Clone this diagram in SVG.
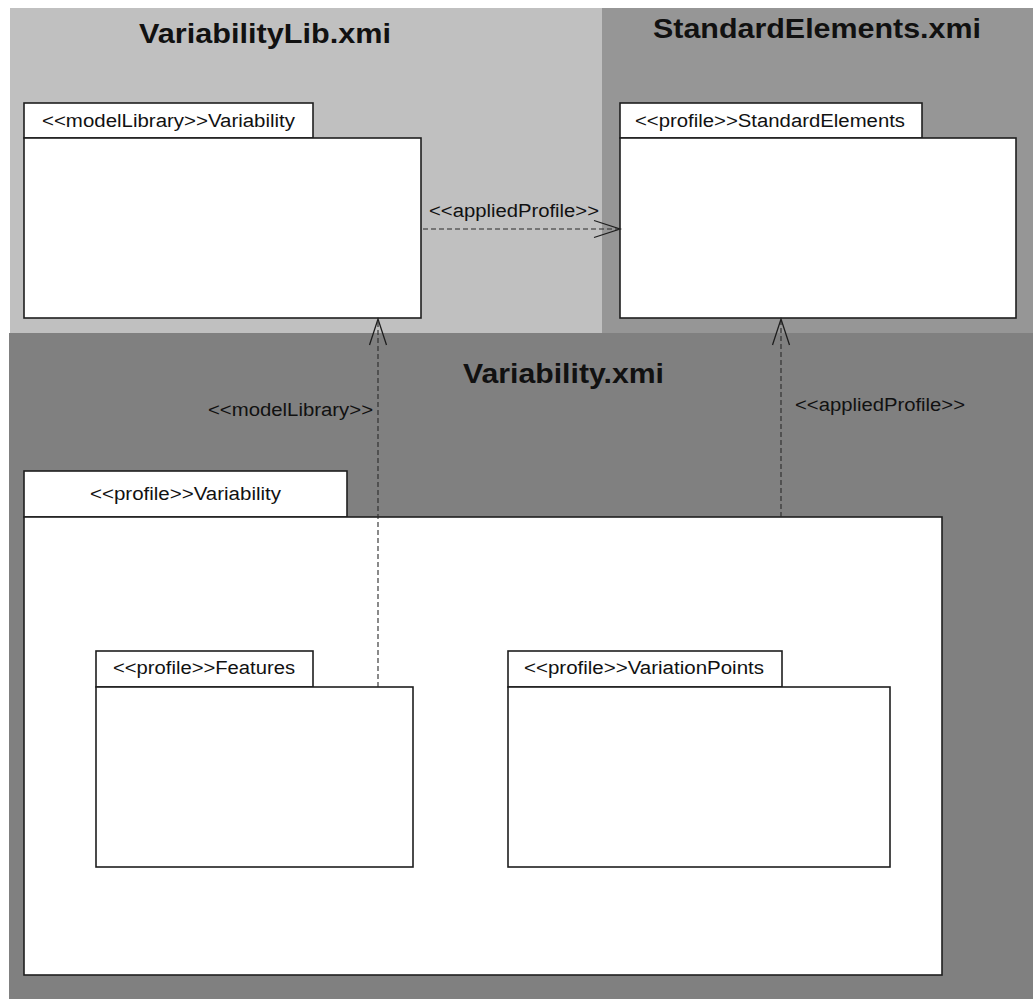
<svg xmlns="http://www.w3.org/2000/svg" width="1033" height="999" viewBox="0 0 1033 999">
  <defs>
    <style>
      .pkg { fill: #ffffff; stroke: #1e1e1e; stroke-width: 1.6; }
      .lbl { font-family: "Liberation Sans", Arial, sans-serif; font-size: 18px; fill: #111111; }
      .ttl { font-family: "Liberation Sans", Arial, sans-serif; font-size: 28px; font-weight: bold; fill: #111111; }
      .dep { fill: none; stroke: #2a2a2a; stroke-width: 1.1; stroke-dasharray: 5 3; }
      .head { fill: none; stroke: #1e1e1e; stroke-width: 1.3; }
    </style>
  </defs>

  <!-- file regions -->
  <g id="regions">
    <rect x="10" y="8" width="592" height="325" fill="#c0c0c0"/>
    <rect x="602" y="8" width="431" height="325" fill="#969696"/>
    <rect x="9" y="333" width="1024" height="666" fill="#808080"/>
    <text class="ttl" x="139" y="43" textLength="252" lengthAdjust="spacingAndGlyphs">VariabilityLib.xmi</text>
    <text class="ttl" x="653" y="38" textLength="328" lengthAdjust="spacingAndGlyphs">StandardElements.xmi</text>
    <text class="ttl" x="463" y="383" textLength="201" lengthAdjust="spacingAndGlyphs">Variability.xmi</text>
  </g>

  <!-- <<modelLibrary>> Variability -->
  <g id="lib-variability">
    <rect class="pkg" x="24" y="103" width="289" height="35"/>
    <rect class="pkg" x="24" y="138" width="397" height="180"/>
    <text class="lbl" x="42" y="127" textLength="253" lengthAdjust="spacingAndGlyphs">&lt;&lt;modelLibrary&gt;&gt;Variability</text>
  </g>

  <!-- <<profile>> StandardElements -->
  <g id="standard-elements">
    <rect class="pkg" x="620" y="103" width="302" height="35"/>
    <rect class="pkg" x="620" y="138" width="396" height="180"/>
    <text class="lbl" x="635" y="127" textLength="270" lengthAdjust="spacingAndGlyphs">&lt;&lt;profile&gt;&gt;StandardElements</text>
  </g>

  <!-- <<profile>> Variability -->
  <g id="profile-variability">
    <rect class="pkg" x="24" y="471" width="323" height="46"/>
    <rect class="pkg" x="24" y="517" width="918" height="458"/>
    <text class="lbl" x="90" y="500" textLength="191" lengthAdjust="spacingAndGlyphs">&lt;&lt;profile&gt;&gt;Variability</text>
  </g>

  <!-- <<profile>> Features -->
  <g id="features">
    <rect class="pkg" x="96" y="651" width="217" height="36"/>
    <rect class="pkg" x="96" y="687" width="317" height="180"/>
    <text class="lbl" x="113" y="674" textLength="182" lengthAdjust="spacingAndGlyphs">&lt;&lt;profile&gt;&gt;Features</text>
  </g>

  <!-- <<profile>> VariationPoints -->
  <g id="variation-points">
    <rect class="pkg" x="508" y="651" width="274" height="36"/>
    <rect class="pkg" x="508" y="687" width="382" height="180"/>
    <text class="lbl" x="524" y="674" textLength="240" lengthAdjust="spacingAndGlyphs">&lt;&lt;profile&gt;&gt;VariationPoints</text>
  </g>

  <!-- dependencies -->
  <g id="connectors">
    <!-- lib applies StandardElements -->
    <line class="dep" x1="423" y1="229" x2="619" y2="229"/>
    <polyline class="head" points="594,220.5 620,229 594,237.5"/>
    <text class="lbl" x="429" y="217" textLength="170" lengthAdjust="spacingAndGlyphs">&lt;&lt;appliedProfile&gt;&gt;</text>

    <!-- Features uses model library -->
    <line class="dep" x1="378" y1="687" x2="378" y2="320"/>
    <polyline class="head" points="369.5,345 378,319 386.5,345"/>
    <text class="lbl" x="208" y="416" textLength="165" lengthAdjust="spacingAndGlyphs">&lt;&lt;modelLibrary&gt;&gt;</text>

    <!-- profile Variability applies StandardElements -->
    <line class="dep" x1="781" y1="517" x2="781" y2="320"/>
    <polyline class="head" points="772.5,345 781,319 789.5,345"/>
    <text class="lbl" x="795" y="411" textLength="170" lengthAdjust="spacingAndGlyphs">&lt;&lt;appliedProfile&gt;&gt;</text>
  </g>
</svg>
